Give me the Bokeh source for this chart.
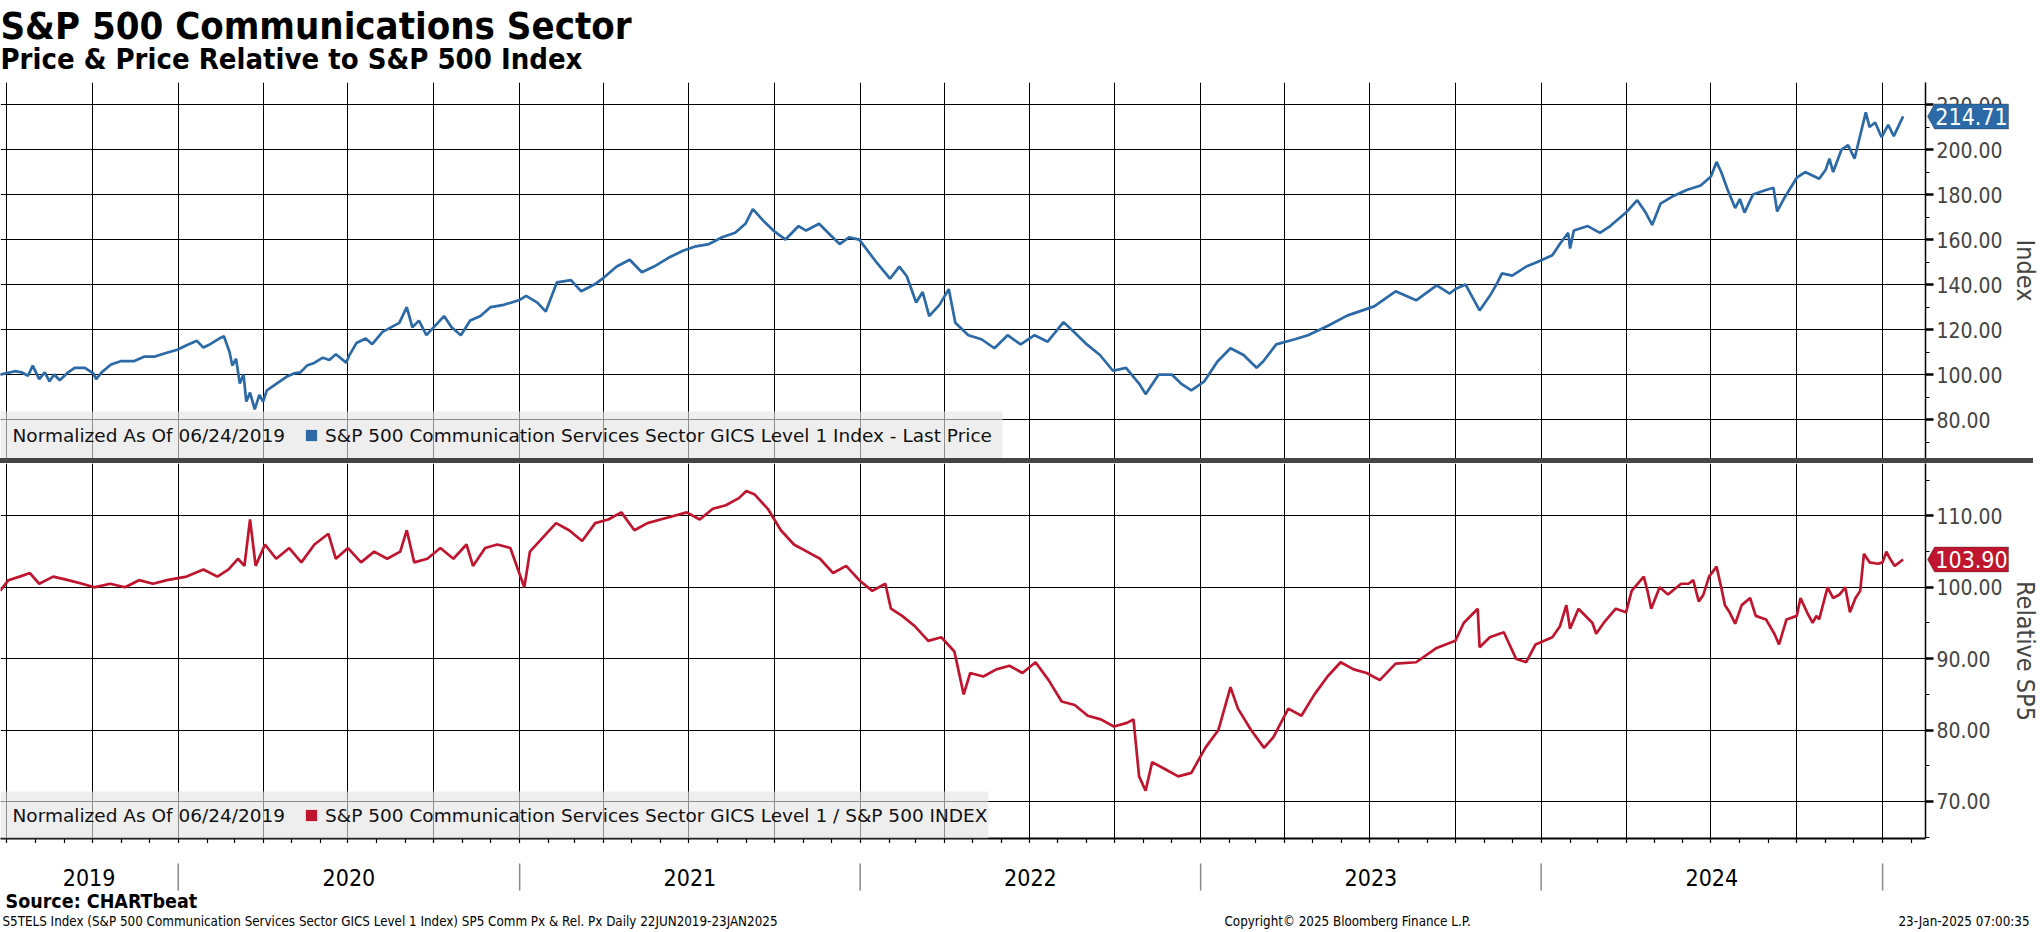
import pandas as pd
from bokeh.plotting import figure
from bokeh.models import (Range1d, MonthsTicker, SingleIntervalTicker, NumeralTickFormatter, FixedTicker,
                          Label, BoxAnnotation, Legend, LegendItem, PolyAnnotation, ColumnDataSource,
                          GridBox, Div)
from bokeh.embed import file_html
from bokeh.resources import INLINE
from bokeh.core.properties import value

# ---------------- data ----------------
price_dates = ["2019-06-24","2019-07-10","2019-07-17","2019-07-24","2019-07-29","2019-08-05","2019-08-11","2019-08-16",
 "2019-08-21","2019-08-27","2019-09-05","2019-09-12","2019-09-23","2019-10-02","2019-10-05","2019-10-11","2019-10-21",
 "2019-11-01","2019-11-15","2019-11-26","2019-12-07","2019-12-18","2019-12-31","2020-01-10","2020-01-21","2020-01-28",
 "2020-02-02","2020-02-14","2020-02-19","2020-02-25","2020-02-28","2020-03-03","2020-03-07","2020-03-11","2020-03-14",
 "2020-03-18","2020-03-23","2020-03-28","2020-04-01","2020-04-05","2020-04-12","2020-04-19","2020-04-26","2020-05-04",
 "2020-05-11","2020-05-18","2020-05-25","2020-06-04","2020-06-11","2020-06-18","2020-06-29","2020-07-03","2020-07-10",
 "2020-07-20","2020-07-27","2020-08-07","2020-08-25","2020-09-02","2020-09-08","2020-09-15","2020-09-23","2020-10-12",
 "2020-10-20","2020-10-30","2020-11-09","2020-11-20","2020-12-01","2020-12-15","2020-12-31","2021-01-08","2021-01-20",
 "2021-01-29","2021-02-10","2021-02-25","2021-03-08","2021-03-22","2021-04-01","2021-04-15","2021-04-29","2021-05-12",
 "2021-05-25","2021-06-10","2021-06-25","2021-07-09","2021-07-23","2021-08-06","2021-08-20","2021-08-31","2021-09-08",
 "2021-09-20","2021-09-30","2021-10-13","2021-10-27","2021-11-04","2021-11-18","2021-11-30","2021-12-10","2021-12-20",
 "2021-12-31","2022-01-19","2022-02-02","2022-02-12","2022-02-20","2022-03-02","2022-03-09","2022-03-16","2022-03-27",
 "2022-04-06","2022-04-13","2022-04-27","2022-05-11","2022-05-25","2022-06-08","2022-06-22","2022-07-07","2022-07-21",
 "2022-08-07","2022-08-18","2022-09-01","2022-09-15","2022-09-29","2022-10-13","2022-10-27","2022-11-03","2022-11-17",
 "2022-12-01","2022-12-11","2022-12-22","2023-01-05","2023-01-19","2023-02-02","2023-02-16","2023-03-02","2023-03-09",
 "2023-03-23","2023-04-12","2023-04-26","2023-05-17","2023-06-07","2023-07-06","2023-07-29","2023-08-20","2023-09-11",
 "2023-09-25","2023-10-01","2023-10-12","2023-10-27","2023-11-07","2023-11-14","2023-11-20","2023-12-01","2023-12-16",
 "2023-12-28","2024-01-13","2024-01-21","2024-01-30","2024-02-01","2024-02-05","2024-02-20","2024-03-04","2024-03-15",
 "2024-04-01","2024-04-13","2024-04-22","2024-04-29","2024-05-08","2024-05-20","2024-06-05","2024-06-20","2024-07-01",
 "2024-07-07","2024-07-12","2024-07-19","2024-07-27","2024-08-01","2024-08-06","2024-08-15","2024-08-29","2024-09-06",
 "2024-09-10","2024-09-17","2024-10-01","2024-10-10","2024-10-25","2024-11-01","2024-11-05","2024-11-09","2024-11-18",
 "2024-11-25","2024-12-02","2024-12-09","2024-12-14","2024-12-18","2024-12-24","2024-12-31","2025-01-07","2025-01-13",
 "2025-01-23"]
price_values = [100,101.5,101,99.5,104,98,101,97,100,97.5,101,103,103,100.5,98,101,104.5,106,106,108,108,109.5,111,113,
 115,112,113,116,117,110,104,107,96,100,88,92,84.5,91,88,93,95,97,99,100.5,101,104,105,107.5,106.5,109,105.3,109,114,116,
 113.5,119,123,130,121,124,117.5,126,121,117.5,124,126,130,131,133,135,132,128,141,142,137,140,143,148,151,145.5,148,152,
 155,157,158,161,163,167,173.5,168,164,160,166,164,167,162,158,161,160,149.6,142.6,148,143.7,132,136.7,126,131,138,123,
 117.5,115.7,111.7,117.5,113.4,117.5,114.6,123.3,119,113.4,108.7,101.7,103,96,91.3,100,100,96,93,97,105.8,111.7,108.7,
 103,105.8,113.4,115.7,117.5,121.6,126.2,130.3,137,133,139.6,136,138,140,128.5,135,140,145,144,148,150,153,158,163,156,
 164,166,163,166,172,177.5,172,166.5,176,179,182,184,188,194.5,190,182,174,178,172,180,182,183,172.5,178,187.5,190,187,
 191,196,190,200,202,196,208,216.5,210,212,205.5,211,206,214.71]

rel_dates = ["2019-06-24","2019-07-03","2019-07-15","2019-07-26","2019-08-05","2019-08-20","2019-09-05","2019-09-20",
 "2019-10-03","2019-10-20","2019-11-05","2019-11-20","2019-12-05","2019-12-20","2020-01-10","2020-01-28","2020-02-12",
 "2020-02-24","2020-03-05","2020-03-12","2020-03-18","2020-03-24","2020-04-03","2020-04-15","2020-04-29","2020-05-12",
 "2020-05-26","2020-06-10","2020-06-18","2020-07-01","2020-07-15","2020-07-29","2020-08-12","2020-08-26","2020-09-02",
 "2020-09-10","2020-09-24","2020-10-08","2020-10-22","2020-11-05","2020-11-12","2020-11-25","2020-12-08","2020-12-22",
 "2021-01-06","2021-01-12","2021-01-26","2021-02-09","2021-02-23","2021-03-09","2021-03-23","2021-04-06","2021-04-20",
 "2021-05-04","2021-05-18","2021-06-01","2021-06-15","2021-06-29","2021-07-13","2021-07-27","2021-08-10","2021-08-24",
 "2021-09-01","2021-09-10","2021-09-24","2021-10-08","2021-10-22","2021-11-05","2021-11-19","2021-12-03","2021-12-17",
 "2021-12-31","2022-01-14","2022-01-28","2022-02-03","2022-02-15","2022-03-01","2022-03-15","2022-03-29","2022-04-12",
 "2022-04-22","2022-04-29","2022-05-13","2022-05-27","2022-06-10","2022-06-24","2022-07-08","2022-07-22","2022-08-05",
 "2022-08-19","2022-09-02","2022-09-16","2022-09-30","2022-10-14","2022-10-21","2022-10-27","2022-11-03","2022-11-10",
 "2022-11-24","2022-12-08","2022-12-22","2023-01-06","2023-01-20","2023-02-02","2023-02-10","2023-02-24","2023-03-10",
 "2023-03-20","2023-04-05","2023-04-19","2023-05-03","2023-05-17","2023-05-31","2023-06-14","2023-06-28","2023-07-12",
 "2023-07-29","2023-08-20","2023-09-11","2023-10-01","2023-10-10","2023-10-25","2023-10-27","2023-11-07","2023-11-22",
 "2023-12-05","2023-12-16","2023-12-26","2024-01-13","2024-01-21","2024-01-28","2024-02-01","2024-02-10","2024-02-25",
 "2024-02-29","2024-03-08","2024-03-21","2024-04-01","2024-04-07","2024-04-20","2024-04-24","2024-04-28","2024-05-07",
 "2024-05-16","2024-05-30","2024-06-07","2024-06-12","2024-06-18","2024-06-23","2024-06-29","2024-07-07","2024-07-12",
 "2024-07-16","2024-07-21","2024-07-27","2024-08-03","2024-08-12","2024-08-18","2024-08-29","2024-09-07","2024-09-12",
 "2024-09-20","2024-10-01","2024-10-05","2024-10-12","2024-10-18","2024-10-22","2024-10-25","2024-11-03","2024-11-09",
 "2024-11-16","2024-11-22","2024-11-27","2024-12-03","2024-12-08","2024-12-12","2024-12-18","2024-12-27","2025-01-01",
 "2025-01-05","2025-01-09","2025-01-14","2025-01-23"]
rel_values = [99.5,101,101.5,102,100.5,101.5,101,100.5,100,100.5,100,101,100.5,101,101.5,102.5,101.5,102.5,104,103,109.5,
 103,106,104,105.5,103.5,106,107.5,104,105.5,103.5,105,104,105,108,103.5,104,105.5,104,106,103,105.5,106,105.5,100,105,
 107,109,108,106.5,109,109.5,110.5,108,109,109.5,110,110.5,109.5,111,111.5,112.5,113.5,113,111,108,106,105,104,102,103,
 101,99.5,100.5,97,96,94.5,92.5,93,91,85,88,87.5,88.5,89,88,89.5,87,84,83.5,82,81.5,80.5,81,81.5,73.5,71.5,75.5,74.5,
 73.5,74,77.5,80,86,83,80,77.5,79,83,82,85,87.5,89.5,88.5,88,87,89.3,89.5,91.5,92.5,95,97,91.6,93,93.7,90,89.5,92,93,
 94.5,97.5,94.2,97,95,93.5,95,97,96.5,99.5,101.5,99.5,97,100,99,100.5,100.5,101,98,99,101.5,102.9,100,97.5,96.5,94.9,
 97.5,98.5,96,95.5,93.5,92,95.5,96,98.5,96.5,95,96,95.5,100,98.5,99,100,96.5,98.5,99.5,104.7,103.5,103.3,103.5,105,104,
 103,103.9]

years = ["2019", "2020", "2021", "2022", "2023", "2024"]
title_text = "S&P 500 Communications Sector"
subtitle_text = "Price & Price Relative to S&P 500 Index"
legend_prefix = "Normalized As Of 06/24/2019"
price_label = "S&P 500 Communication Services Sector GICS Level 1 Index - Last Price"
rel_label = "S&P 500 Communication Services Sector GICS Level 1 / S&P 500 INDEX"

# ---------------- styling ----------------
BLUE = "#2b69a7"
RED = "#c0152f"
COND = "DejaVu Sans Condensed, DejaVu Sans"
SANS = "DejaVu Sans"
W = 2033
FW = 1925
RB = W - FW
HH = 82
FH_TOP = 376
FH_BOT = 375
FOOT = 86

x_start = pd.Timestamp("2019-06-24 12:00")
x_end = pd.Timestamp("2025-02-16")
x_range = Range1d(x_start, x_end)

price_src = ColumnDataSource(dict(d=pd.to_datetime(price_dates), v=price_values))
rel_src = ColumnDataSource(dict(d=pd.to_datetime(rel_dates), v=rel_values))

month_starts = pd.date_range("2019-07-01", "2025-02-01", freq="MS")
month_ms = [int(t.value // 10**6) for t in month_starts]


def bare(fig):
    fig.grid.visible = False
    return fig


def panel(fh, y0, y1, interval, src, color, axis_label, leg_text, leg_right, below):
    p = figure(frame_width=FW, frame_height=fh, x_range=x_range, y_range=Range1d(y0, y1),
               x_axis_type="datetime", x_axis_location="below" if below else None,
               y_axis_location="right", output_backend="svg", toolbar_location=None, title=None,
               min_border_left=0, min_border_top=0, min_border_bottom=0, min_border_right=RB,
               outline_line_color=None, background_fill_color="white")
    ax = p.yaxis[0]
    ax.ticker = SingleIntervalTicker(interval=interval, num_minor_ticks=2)
    ax.formatter = NumeralTickFormatter(format="0.00")
    ax.axis_label = axis_label
    ax.axis_label_text_font = COND
    ax.axis_label_text_font_style = "normal"
    ax.axis_label_text_font_size = "25px"
    ax.axis_label_standoff = 5
    ax.major_label_text_font = COND
    ax.major_label_text_font_size = "21px"
    ax.major_label_standoff = 3
    ax.axis_line_color = "black"
    ax.axis_line_width = 1.5
    ax.major_tick_out = 8
    ax.major_tick_in = 0
    ax.major_tick_line_width = 2.5
    ax.minor_tick_out = 4
    ax.minor_tick_in = 0
    ax.minor_tick_line_color = "black"
    p.ygrid.grid_line_color = "black"
    p.ygrid.grid_line_width = 1
    p.xgrid.grid_line_color = "black"
    p.xgrid.grid_line_width = 1
    if below:
        xa = p.xaxis[0]
        xa.ticker = FixedTicker(ticks=[], minor_ticks=month_ms)
        xa.major_tick_line_color = None
        xa.minor_tick_out = 5
        xa.minor_tick_in = 0
        xa.minor_tick_line_color = "black"
        xa.minor_tick_line_width = 1.2
        xa.axis_line_width = 1.8
        xa.axis_line_color = "black"
        xa.major_label_standoff = 0
    p.xgrid.ticker = MonthsTicker(months=[0, 3, 6, 9])

    p.line(x="d", y="v", source=src, color=color, line_width=2.7)

    # legend strip
    p.add_layout(BoxAnnotation(left=0, right=leg_right, bottom=0, top=47,
                               left_units="screen", right_units="screen",
                               bottom_units="screen", top_units="screen",
                               fill_color="#e4e4e4", fill_alpha=0.62, line_color=None))
    p.add_layout(Label(x=12, y=23, x_units="screen", y_units="screen", text=legend_prefix,
                       text_font=SANS, text_font_size="18.5px", text_baseline="middle", text_color="#111111"))
    sq = p.scatter(x="d", y="v", source=src, marker="square", size=0, fill_color=color, line_color=None)
    leg = Legend(items=[LegendItem(label=leg_text, renderers=[sq])], location=(297, 9),
                 orientation="horizontal", background_fill_alpha=0, border_line_alpha=0,
                 padding=0, margin=0, glyph_width=28, glyph_height=28, label_standoff=-3,
                 label_text_font=SANS, label_text_font_size="18.5px", label_text_color="#111111")
    p.add_layout(leg)
    return p


def tag_layer(fh, panel_fig, src, color):
    t = bare(figure(frame_width=W, frame_height=fh, x_range=Range1d(0, W), y_range=panel_fig.y_range,
                    min_border=0, x_axis_location=None, y_axis_location=None, title=None,
                    outline_line_color=None, background_fill_alpha=0, border_fill_alpha=0,
                    toolbar_location=None, output_backend="svg"))
    last = src.data["v"][-1]
    yr = panel_fig.y_range
    dy = 12.5 * (yr.end - yr.start) / fh
    t.add_layout(PolyAnnotation(xs=[FW + 2, FW + 9, FW + 83, FW + 83, FW + 9],
                                ys=[last, last + dy, last + dy, last - dy, last - dy],
                                xs_units="data", ys_units="data",
                                fill_color=color, fill_alpha=1, line_color="#1e1e1e", line_width=1))
    t.add_layout(Label(x=FW + 46, y=last, text=f"{last:.2f}", text_color="white", text_font=COND,
                       text_font_size="23px", text_align="center", text_baseline="middle"))
    return t


top = panel(FH_TOP, 62.7, 229.8, 20, price_src, BLUE, "Index", price_label, 1002, False)
bot = panel(FH_BOT, 64.8, 117.35, 10, rel_src, RED, "Relative SP5", rel_label, 988, True)
top_tag = tag_layer(FH_TOP, top, price_src, BLUE)
bot_tag = tag_layer(FH_BOT, bot, rel_src, RED)

# header
head = bare(figure(width=W, height=HH, x_range=Range1d(0, W), y_range=Range1d(0, HH), min_border=0,
                   x_axis_location=None, y_axis_location=None, outline_line_color=None, title=None,
                   toolbar_location=None, output_backend="svg"))
head.add_layout(Label(x=0, y=HH - 25, text=title_text, text_font=COND, text_font_style="bold",
                      text_font_size="38px", text_baseline="middle", text_color="black"))
head.add_layout(Label(x=0, y=HH - 58, text=subtitle_text, text_font=COND, text_font_style="bold",
                      text_font_size="29px", text_baseline="middle", text_color="black"))

# separator bar
sep = Div(text="", width=W, height=5, margin=0, styles={"background-color": "#454545"})

# footer with year labels (same time scale, frame spans the full width)
x_end_full = x_start + (x_end - x_start) * (W / FW)
foot = bare(figure(frame_width=W, frame_height=FOOT, x_range=Range1d(x_start, x_end_full),
                   y_range=Range1d(0, FOOT), x_axis_type="datetime", x_axis_location=None,
                   y_axis_location=None, min_border=0, title=None,
                   outline_line_color=None, toolbar_location=None, output_backend="svg"))
year_starts = [pd.Timestamp(f"{y}-01-01") for y in years]
mids = []
for ys in year_starts:
    a = max(ys, pd.Timestamp(price_dates[0]))
    b = min(ys + pd.DateOffset(years=1), x_end)
    mids.append(a + (b - a) / 2)
bounds = [ys + pd.DateOffset(years=1) for ys in year_starts]
foot.segment(x0="x", y0=66, x1="x", y1=39, source=ColumnDataSource(dict(x=bounds)),
             line_color="#8a8a8a", line_width=1.5)
foot.text(x="x", y=52, text="t", source=ColumnDataSource(dict(x=mids, t=years)),
          text_font=value(COND), text_font_size=value("23px"), text_align="center",
          text_baseline="middle", text_color="black")
foot.add_layout(Label(x=5, y=28, x_units="screen", y_units="screen", text="Source: CHARTbeat",
                      text_font=COND, text_font_style="bold", text_font_size="19.5px",
                      text_baseline="middle", text_color="black"))
foot.add_layout(Label(x=2, y=8, x_units="screen", y_units="screen",
                      text="S5TELS Index (S&P 500 Communication Services Sector GICS Level 1 Index) SP5 Comm Px & Rel. Px  Daily 22JUN2019-23JAN2025",
                      text_font=COND, text_font_size="13.3px", text_baseline="middle", text_color="black"))
foot.add_layout(Label(x=1224, y=8, x_units="screen", y_units="screen",
                      text="Copyright\u00a9 2025 Bloomberg Finance L.P.",
                      text_font=COND, text_font_size="13.3px", text_baseline="middle", text_color="black"))
foot.add_layout(Label(x=W - 4, y=8, x_units="screen", y_units="screen", text="23-Jan-2025 07:00:35",
                      text_font=COND, text_font_size="13.3px", text_baseline="middle", text_align="right",
                      text_color="black"))

layout = GridBox(children=[(head, 0, 0), (top, 1, 0), (top_tag, 1, 0), (sep, 2, 0),
                           (bot, 3, 0), (bot_tag, 3, 0), (foot, 4, 0)], spacing=0)
open("out.html", "w").write(file_html(layout, INLINE))
